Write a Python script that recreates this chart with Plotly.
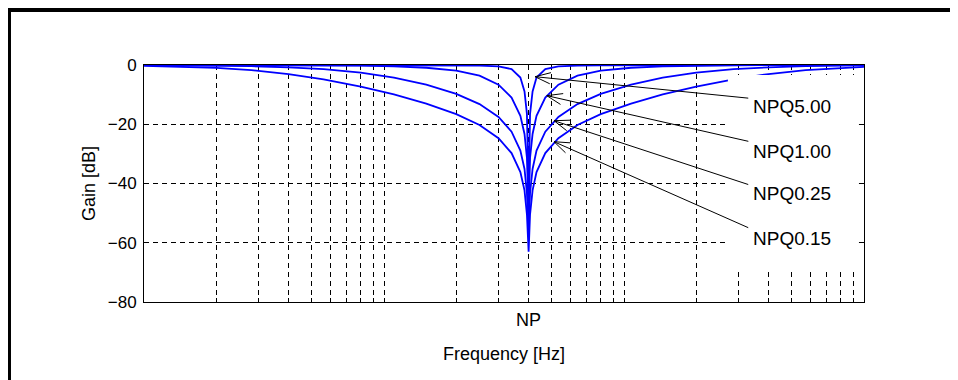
import math
import plotly.graph_objects as go

# frequency samples [Hz], notch point NP = 400 Hz
freq = [10, 14, 20, 28, 40, 56, 80, 110, 150, 200, 250, 300, 340, 370, 385, 394, 399.5,
        400.5, 406, 416, 432, 470, 533, 640, 800, 1070, 1450, 2000, 2860, 4000, 5710, 8000, 10000]

# gain [dB] for each curve
gain_q500 = [-0.0001, -0.0002, -0.0004, -0.0009, -0.0018, -0.0035, -0.0075, -0.015, -0.033, -0.077,
             -0.18, -0.48, -1.38, -4.22, -8.94, -16.5, -45,
             -45, -16.5, -8.94, -4.22, -1.38, -0.48, -0.18, -0.077, -0.033, -0.015, -0.0075,
             -0.0035, -0.0018, -0.0009, -0.0004, -0.0003]
gain_q100 = [-0.003, -0.007, -0.013, -0.027, -0.054, -0.11, -0.23, -0.45, -0.92, -1.90,
             -3.62, -6.66, -11.0, -17.13, -23.27, -31.3, -50,
             -50, -31.3, -23.27, -17.13, -11.0, -6.66, -3.62, -1.90, -0.92, -0.45, -0.23,
             -0.11, -0.054, -0.027, -0.013, -0.009]
gain_q025 = [-0.05, -0.10, -0.20, -0.39, -0.77, -1.42, -2.60, -4.27, -6.63, -9.73,
             -13.2, -17.53, -22.51, -28.9, -35.1, -43.2, -55,
             -55, -43.2, -35.1, -28.9, -22.51, -17.53, -13.2, -9.73, -6.63, -4.27, -2.60,
             -1.42, -0.77, -0.39, -0.20, -0.13]
gain_q015 = [-0.26, -0.50, -0.97, -1.75, -3.05, -4.83, -7.28, -9.94, -13.02, -16.57,
             -20.26, -24.7, -29.73, -36.13, -42.33, -50.4, -63,
             -63, -50.4, -42.33, -36.13, -29.73, -24.7, -20.26, -16.57, -13.02, -9.94, -7.28,
             -4.83, -3.05, -1.75, -0.97, -0.65]

curves = [gain_q500, gain_q100, gain_q025, gain_q015]

x_tickvals = [20, 30, 40, 50, 60, 70, 80, 90, 100,
              200, 300, 400, 500, 600, 700, 800, 900, 1000,
              2000, 3000, 4000, 5000, 6000, 7000, 8000, 9000]
x_ticktext = ["NP" if v == 400 else "" for v in x_tickvals]

y_tickvals = [-80, -60, -40, -20, 0]

labels = ["NPQ5.00", "NPQ1.00", "NPQ0.25", "NPQ0.15"]
label_freq = [426, 477, 511, 511]
label_db = [-3.95, -10.35, -18.8, -25.9]

FONT = "Liberation Sans, Arial, sans-serif"

fig = go.Figure()
for g in curves:
    fig.add_trace(go.Scatter(x=freq, y=g, mode="lines",
                             line=dict(color="#0000ff", width=1.8),
                             showlegend=False, hoverinfo="skip"))

# white area behind the labels
fig.add_shape(type="rect", xref="paper", yref="paper",
              x0=0.811, x1=0.993, y0=0.127, y1=0.958,
              fillcolor="white", line_width=0, layer="above")

# frame lines (top and left)
fig.add_shape(type="line", xref="paper", yref="paper",
              x0=-0.1917, x1=1.2, y0=1.2342, y1=1.2342,
              line=dict(color="black", width=5))
fig.add_shape(type="line", xref="paper", yref="paper",
              x0=-0.1882, x1=-0.1882, y0=-0.4, y1=1.2447,
              line=dict(color="black", width=5))

# pixel offsets from arrow tip to line start
tails = [(214.7, 21.6), (203, 46), (195.7, 64.3), (195.7, 86.6)]
text_y = [0.8228, 0.6371, 0.4557, 0.27]

for name, f, db, (ax, ay), ty in zip(labels, label_freq, label_db, tails, text_y):
    fig.add_annotation(xref="paper", yref="paper", x=0.8430, y=ty, text=name,
                       showarrow=False, xanchor="left", yanchor="middle",
                       font=dict(family=FONT, size=19, color="black"))
    xa = math.log10(f)
    fig.add_annotation(x=xa, y=db, ax=ax, ay=ay, text="", showarrow=True,
                       arrowhead=0, arrowwidth=1, arrowcolor="black", standoff=0)
    ang = math.atan2(ay, ax)
    for d in (-20, 20):
        a = ang + math.radians(d)
        fig.add_annotation(x=xa, y=db, ax=18 * math.cos(a), ay=18 * math.sin(a), text="",
                           showarrow=True, arrowhead=0, arrowwidth=1,
                           arrowcolor="black", standoff=0)

axis_common = dict(showline=True, linecolor="black", linewidth=1, mirror="ticks",
                   ticks="inside", ticklen=4, tickcolor="black",
                   showgrid=True, gridcolor="black", gridwidth=1, griddash="5px,4px",
                   zeroline=False, layer="below traces")

# the page adds an 8px body margin, so the figure is 8px smaller and the margins shifted
fig.update_layout(
    width=950, height=372,
    margin=dict(l=136, r=94, t=57, b=78),
    paper_bgcolor="white", plot_bgcolor="white",
    font=dict(family=FONT, color="black"),
    xaxis=dict(type="log", range=[1, 4], tickvals=x_tickvals, ticktext=x_ticktext,
               tickfont=dict(size=18), ticklabelstandoff=1,
               title=dict(text="Frequency [Hz]", font=dict(size=18), standoff=18),
               **axis_common),
    yaxis=dict(range=[-80, 0], tickvals=y_tickvals, tickfont=dict(size=17),
               ticklabelstandoff=3,
               title=dict(text="Gain [dB]", font=dict(size=18), standoff=7),
               **axis_common),
)

fig.write_html("out.html")
